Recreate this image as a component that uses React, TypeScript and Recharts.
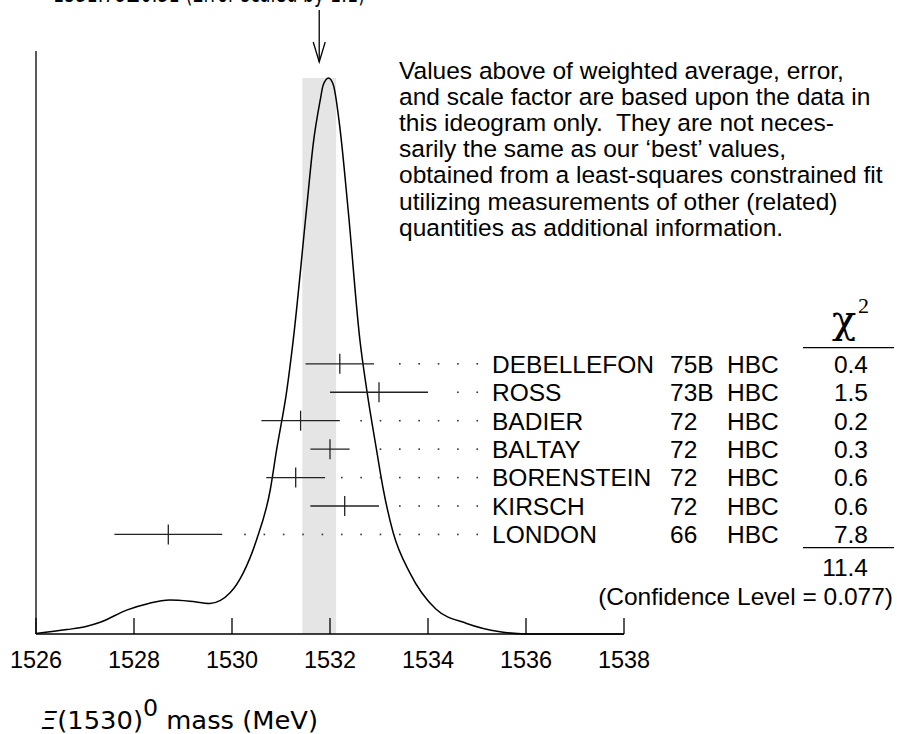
import React from 'react';
import {
  ComposedChart,
  Line,
  Scatter,
  XAxis,
  YAxis,
  ReferenceArea,
  ReferenceLine,
  ErrorBar,
} from 'recharts';

// ideogram curve
const curveMass = [
  1526.0, 1526.63, 1527.0, 1527.31, 1527.85, 1528.3, 1528.73, 1529.14, 1529.55, 1529.96, 1530.23,
  1530.5, 1530.78, 1530.91, 1531.12, 1531.25, 1531.52, 1531.66, 1531.8, 1531.86, 1531.97,
  1532.07, 1532.2, 1532.37, 1532.61, 1532.75, 1532.95, 1533.09, 1533.29, 1533.63, 1534.16,
  1534.79, 1535.47, 1536.01, 1538.0,
];
const curveDensity = [
  0.001, 0.008, 0.013, 0.021, 0.043, 0.055, 0.061, 0.059, 0.055, 0.074, 0.11,
  0.169, 0.259, 0.331, 0.439, 0.529, 0.763, 0.883, 0.96, 0.987, 1.0,
  0.987, 0.912, 0.763, 0.529, 0.439, 0.331, 0.259, 0.182, 0.11, 0.045,
  0.019, 0.004, 0.0, 0.0,
];

// measurements
const authors = ['DEBELLEFON', 'ROSS', 'BADIER', 'BALTAY', 'BORENSTEIN', 'KIRSCH', 'LONDON'];
const years = ['75B', '73B', '72', '72', '72', '72', '66'];
const techniques = ['HBC', 'HBC', 'HBC', 'HBC', 'HBC', 'HBC', 'HBC'];
const masses = [1532.2, 1533.0, 1531.4, 1532.0, 1531.3, 1532.3, 1528.7];
const errors = [0.7, 1.0, 0.8, 0.4, 0.6, 0.7, 1.1];
const chiSquares = [0.4, 1.5, 0.2, 0.3, 0.6, 0.6, 7.8];

const xTicks = [1526, 1528, 1530, 1532, 1534, 1536, 1538];

const weightedAverage = 1531.78;
const averageError = 0.345;
const scaleFactor = 1.1;
const confidenceLevel = 0.077;

const noteLines = [
  'Values above of weighted average, error,',
  'and scale factor are based upon the data in',
  'this ideogram only.\u00a0 They are not neces-',
  'sarily the same as our \u2018best\u2019 values,',
  'obtained from a least-squares constrained fit',
  'utilizing measurements of other (related)',
  'quantities as additional information.',
];

// dotted leader grid
const leaderStart = 1530.265;
const leaderStep = 0.395;
const leaderEnd = 1535.05;

const SANS = '"Liberation Sans", Arial, Helvetica, sans-serif';
const CM = '"DejaVu Sans", "Open Sans", sans-serif';
const SERIF = '"DejaVu Serif", "Liberation Serif", serif';
const INK = '#000';

const curveData = curveMass.map((m, i) => ({ x: m, y: curveDensity[i] }));
const peak = Math.max(...curveDensity);

const rows = authors.map((name, i) => ({
  x: masses[i],
  y: 9.5 - i,
  err: errors[i],
  name,
  year: years[i],
  tech: techniques[i],
  chi: chiSquares[i],
}));

const leaderDots = rows.flatMap((r) => {
  const out: { x: number; y: number }[] = [];
  for (let k = 0; leaderStart + k * leaderStep <= leaderEnd; k++) {
    const g = leaderStart + k * leaderStep;
    if (g >= r.x + r.err + 0.3) out.push({ x: g, y: r.y });
  }
  return out;
});

const chiTotal = chiSquares.reduce((a, b) => a + b, 0);

const XTick = (props: any) => {
  const { x, y, payload } = props;
  return (
    <g>
      <line x1={x} x2={x} y1={y} y2={y - 16} stroke={INK} strokeWidth={1.3} />
      <text x={x} y={y + 34} textAnchor="middle" fontFamily={SANS} fontSize={23.4} fill={INK}>
        {payload.value}
      </text>
    </g>
  );
};

const RowShape = (props: any) => {
  const { cx, cy, payload } = props;
  const base = cy + 8.8;
  return (
    <g fontFamily={SANS} fontSize={24.5} fill={INK}>
      <line x1={cx} x2={cx} y1={cy - 10} y2={cy + 10} stroke="#222" strokeWidth={1.3} />
      <text x={492} y={base}>{payload.name}</text>
      <text x={670} y={base}>{payload.year}</text>
      <text x={727} y={base}>{payload.tech}</text>
      <text x={868} y={base} textAnchor="end">{payload.chi.toFixed(1)}</text>
    </g>
  );
};

const DotShape = (props: any) => (
  <rect x={props.cx - 0.8} y={props.cy - 0.8} width={1.6} height={1.6} fill="#333" />
);

const ArrowShape = (props: any) => {
  const { cx, cy } = props;
  return (
    <g stroke={INK} strokeWidth={1.3} fill="none">
      <line x1={cx} x2={cx} y1={cy - 68} y2={cy - 16} />
      <polyline points={`${cx - 6},${cy - 36} ${cx},${cy - 16} ${cx + 6},${cy - 36}`} />
    </g>
  );
};

export default function App() {
  return (
    <div style={{ position: 'absolute', left: 0, top: 0, width: 897, height: 734, background: '#fff' }}>
      <ComposedChart width={897} height={734} margin={{ top: 0, right: 273, bottom: 70, left: 36 }}>
        <XAxis
          type="number"
          dataKey="x"
          domain={[1526, 1538]}
          ticks={xTicks}
          height={30}
          tickSize={0}
          tickMargin={0}
          tickLine={false}
          tick={<XTick />}
          axisLine={{ stroke: INK, strokeWidth: 1.3 }}
        />
        <YAxis yAxisId="curve" type="number" dataKey="y" domain={[0, 634 / 556]} hide />
        <YAxis yAxisId="rows" type="number" dataKey="y" domain={[0, 634 / 28.44]} hide />
        <ReferenceArea
          yAxisId="curve"
          x1={weightedAverage - averageError}
          x2={weightedAverage + averageError}
          y1={0}
          y2={peak}
          fill="#e5e5e5"
          fillOpacity={1}
          stroke="none"
        />
        <ReferenceLine
          yAxisId="curve"
          segment={[{ x: 1526, y: 0 }, { x: 1526, y: 1.0486 }]}
          stroke={INK}
          strokeWidth={1.3}
        />
        <Line
          yAxisId="curve"
          data={curveData}
          dataKey="y"
          type="monotone"
          stroke={INK}
          strokeWidth={1.5}
          dot={false}
          isAnimationActive={false}
        />
        <Scatter yAxisId="curve" data={[{ x: weightedAverage, y: peak }]} shape={<ArrowShape />} isAnimationActive={false} />
        <Scatter yAxisId="rows" data={leaderDots} shape={<DotShape />} isAnimationActive={false} />
        <Scatter yAxisId="rows" data={rows} shape={<RowShape />} isAnimationActive={false}>
          <ErrorBar dataKey="err" direction="x" width={0} stroke="#222" strokeWidth={1.3} isAnimationActive={false} />
        </Scatter>
      </ComposedChart>
      <svg
        width={897}
        height={734}
        style={{ position: 'absolute', left: 0, top: 0, pointerEvents: 'none' }}
      >
        <text x={53} y={1.5} fontFamily={CM} fontSize={24} fill={INK} textLength={312} lengthAdjust="spacingAndGlyphs">
          {`${weightedAverage.toFixed(2)}\u00b1${(averageError / scaleFactor).toFixed(2)} (Error scaled by ${scaleFactor})`}
        </text>
        <g fontFamily={SANS} fontSize={24.5} fill={INK}>
          {noteLines.map((t, i) => (
            <text key={i} x={399} y={79 + i * 26.1}>
              {t}
            </text>
          ))}
          <text x={868} y={576} textAnchor="end">{chiTotal.toFixed(1)}</text>
          <text x={893} y={605} textAnchor="end">{`(Confidence Level = ${confidenceLevel})`}</text>
        </g>
        <text x={832} y={333} fontFamily={SERIF} fontSize={40} fill={INK}>
          {'\u03c7'}
        </text>
        <text x={858} y={313} fontFamily='"Liberation Serif", serif' fontSize={22} fill={INK}>
          2
        </text>
        <line x1={803} x2={894} y1={347.7} y2={347.7} stroke={INK} strokeWidth={1.3} />
        <line x1={803} x2={894} y1={547.7} y2={547.7} stroke={INK} strokeWidth={1.3} />
        <text x={41} y={729} fontFamily={CM} fontSize={25} fill={INK} textLength={277} lengthAdjust="spacingAndGlyphs">
          <tspan fontStyle="italic">{'\u039e'}</tspan>
          <tspan>(1530)</tspan>
          <tspan dy={-13} fontSize={23}>0</tspan>
          <tspan dy={13}> mass (MeV)</tspan>
        </text>
      </svg>
    </div>
  );
}
